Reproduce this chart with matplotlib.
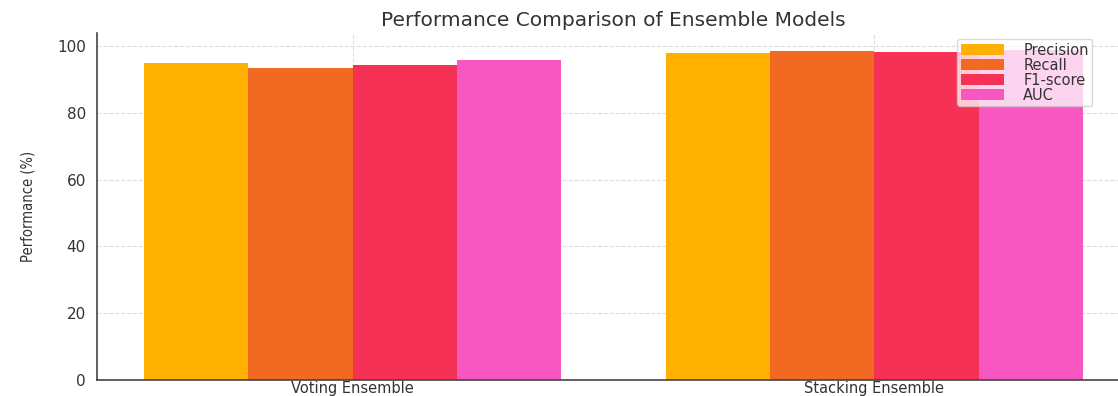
import numpy as np
import matplotlib.pyplot as plt

models = ['Voting Ensemble', 'Stacking Ensemble']
metrics = ['Precision', 'Recall', 'F1-score', 'AUC']
precision = [95.0, 98.0]
recall = [93.5, 98.7]
f1_score = [94.3, 98.3]
auc = [95.9, 99.0]

colors = ['#FFB000', '#F26A22', '#F53255', '#F857C1']
text_color = '#333333'

fig = plt.figure(figsize=(11.18, 3.96), dpi=100)
# axes runs a bit past the right edge of the figure
ax = fig.add_axes([97 / 1118, 16 / 396, 1033 / 1118, 347 / 396])

x = np.arange(len(models))
width = 0.2
series = [precision, recall, f1_score, auc]
for i, (vals, name) in enumerate(zip(series, metrics)):
    ax.bar(x + (i - 1.5) * width, vals, width, label=name, color=colors[i])

ax.set_xticks(x)
ax.set_xticklabels(models, fontsize=10.5, color=text_color)
ax.set_ylabel('Performance (%)', fontsize=10.5, color=text_color,
              fontstretch='condensed')
ax.yaxis.set_label_coords(-0.06, 0.5)
ax.set_title('Performance Comparison of Ensemble Models', fontsize=14.5,
             color=text_color, pad=5)
ax.tick_params(axis='y', labelsize=11, length=0, pad=8, labelcolor=text_color)
ax.tick_params(axis='x', length=0, pad=0.5)
ax.grid(True, linestyle='--', color='#dddddd', linewidth=0.8)
ax.set_axisbelow(True)
for s in ['top', 'right']:
    ax.spines[s].set_visible(False)
for s in ['left', 'bottom']:
    ax.spines[s].set_color('#444444')
    ax.spines[s].set_linewidth(1.2)

leg = ax.legend(loc='upper left', bbox_to_anchor=(0.8325, 0.983),
                borderaxespad=0, fontsize=10.5, framealpha=0.75,
                handlelength=3.0, handletextpad=1.3, labelspacing=0.0,
                borderpad=0.25)
leg.get_frame().set_edgecolor('#cccccc')
for t in leg.get_texts():
    t.set_color(text_color)

fig.savefig('out.png', dpi=100)
